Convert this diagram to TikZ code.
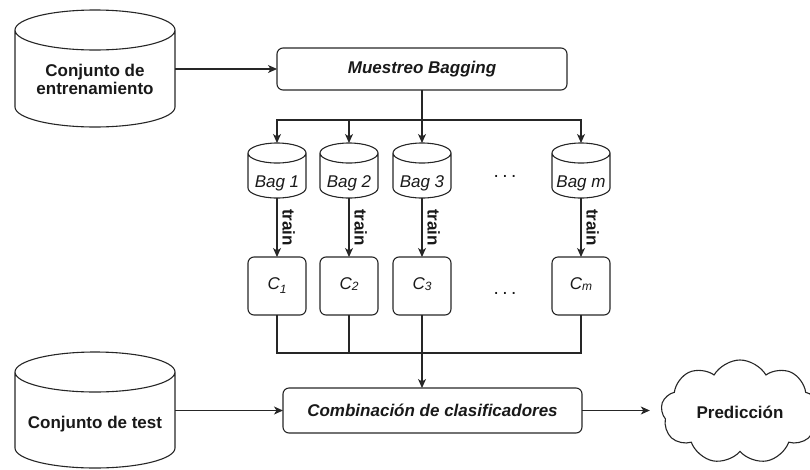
\documentclass[tikz,border=0pt]{standalone}
\usepackage{fontspec}
\setmainfont{Liberation Sans}
\usetikzlibrary{arrows.meta,calc,shapes.symbols}
\newcommand\fsz{\fontsize{17}{18.5}\selectfont}
\newcommand\subsz{\fontsize{12}{14}\selectfont}
\newcommand\drawcyl[2]{%
  \draw[line] let \p1=(#1.north west), \p2=(#1.south east), \p3=($(\p1)!.5!(\p2)$) in
    (\x3,\y1-#2) ellipse[x radius={\x3-\x1}, y radius=#2]
    (\x1,\y1-#2) -- (\x1,\y2+#2) arc[start angle=180, end angle=360, x radius={\x3-\x1}, y radius=#2] -- (\x2,\y1-#2);}
\begin{document}
\begin{tikzpicture}[x=1pt,y=-1pt,
  every node/.style={font=\fsz, text=black!90},
  line/.style={line width=1.1pt, draw=black!85},
  arr/.style={line, -{Stealth[length=9pt,width=8pt,inset=2.5pt]}},
  area/.style 2 args={minimum width=#1, minimum height=#2, inner sep=0pt, outer sep=0pt},
  box/.style={line, draw, rounded corners=6pt, inner sep=0pt, outer sep=0pt},
  cbox/.style={box, minimum width=58, minimum height=58, font=\fsz\itshape, text height=12pt, text depth=5pt},
  baglbl/.style={anchor=base, font=\fsz\itshape},
  trainlbl/.style={midway, rotate=-90, anchor=south, inner sep=5pt, font=\fsz\bfseries},
  bold/.style={font=\fsz\bfseries},
  dotlbl/.style={anchor=base, font=\fontsize{19}{22}\selectfont}
]
\useasboundingbox (0,0) rectangle (810,469);

% training set cylinder
\node[area={160}{117}] (entr) at (95,68.5) {};
\drawcyl{entr}{20pt}
\node[bold, align=center] (entrtxt) at (95,79.5) {Conjunto de\\entrenamiento};

% bagging sampling
\node[box, minimum width=290, minimum height=42, font=\fsz\bfseries\itshape] (mues) at (422,69) {Muestreo Bagging};
\draw[arr] (entr.east |- mues.west) -- (mues.west);

% bags
\node[area={58}{55}] (bag1) at (277,170.5) {};
\node[area={58}{55}] (bag2) at (349,170.5) {};
\node[area={58}{55}] (bag3) at (422,170.5) {};
\node[area={58}{55}] (bagm) at (581,170.5) {};
\drawcyl{bag1}{10pt}
\drawcyl{bag2}{10pt}
\drawcyl{bag3}{10pt}
\drawcyl{bagm}{10pt}
\node[baglbl] (bag1t) at (277,187) {Bag 1};
\node[baglbl] (bag2t) at (349,187) {Bag 2};
\node[baglbl] (bag3t) at (422,187) {Bag 3};
\node[baglbl] (bagmt) at (581,187) {Bag m};
\node[dotlbl] (dots1) at (505,177) {.\hspace{3.5pt}.\hspace{3.5pt}.};

\draw[arr] (mues.south) -- ++(0,30) -| (bag1.north);
\draw[arr] (mues.south) -- ++(0,30) -| (bag2.north);
\draw[arr] (mues.south) -- (bag3.north);
\draw[arr] (mues.south) -- ++(0,30) -| (bagm.north);

% classifiers
\node[cbox] (c1) at (277,286) {C\raisebox{-3.5pt}{\subsz 1}};
\node[cbox] (c2) at (349,286) {C\raisebox{-1pt}{\subsz 2}};
\node[cbox] (c3) at (422,286) {C\raisebox{-1pt}{\subsz 3}};
\node[cbox] (cm) at (581,286) {C\raisebox{-1pt}{\subsz m}};
\node[dotlbl] (dots2) at (505,294) {.\hspace{3.5pt}.\hspace{3.5pt}.};

\draw[arr] (bag1.south) -- node[trainlbl] {train} (c1.north);
\draw[arr] (bag2.south) -- node[trainlbl] {train} (c2.north);
\draw[arr] (bag3.south) -- node[trainlbl] {train} (c3.north);
\draw[arr] (bagm.south) -- node[trainlbl] {train} (cm.north);

% combination
\node[box, minimum width=299, minimum height=45, font=\fsz\bfseries\itshape] (comb) at (432.5,410.5) {Combinación de clasificadores};
\coordinate (cj) at (422,353);
\draw[line] (c1.south) |- (cj) -| (cm.south);
\draw[line] (c2.south) -- (c2.south |- cj);
\draw[arr] (c3.south) -- (c3.south |- comb.north);

% test set cylinder
\node[area={160}{116}] (test) at (95,410) {};
\drawcyl{test}{20pt}
\node[bold, anchor=base] (testtxt) at (95,428) {Conjunto de test};
\draw[arr] (test.east |- comb.west) -- (comb.west);

% prediction cloud
\node[cloud, line, draw, cloud puffs=9, cloud puff arc=120, aspect=1.5, minimum width=158, minimum height=104, inner sep=0pt, outer sep=0pt, bold] (pred) at (740,412) {Predicción};
\draw[arr, shorten >=12pt] (comb.east) -- (comb.east -| pred.west);
\end{tikzpicture}
\end{document}
